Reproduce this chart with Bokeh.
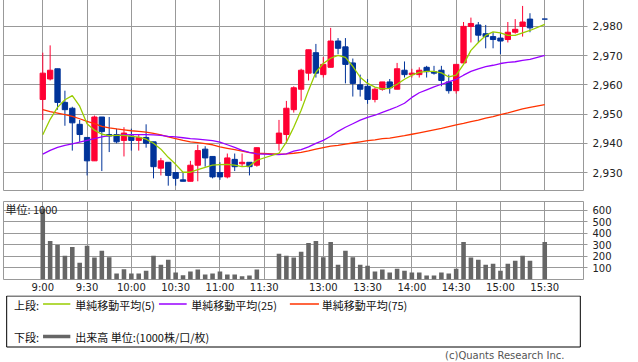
from bokeh.plotting import figure
from bokeh.models import Range1d, FixedTicker, NumeralTickFormatter, ColumnDataSource, Label
from bokeh.layouts import column
from bokeh.embed import file_html
from bokeh.resources import INLINE
from bokeh.core.properties import value

# ---------------- data ----------------
times = ["9:00", "9:05", "9:10", "9:15", "9:20", "9:25", "9:30", "9:35", "9:40", "9:45",
         "9:50", "9:55", "10:00", "10:05", "10:10", "10:15", "10:20", "10:25", "10:30", "10:35",
         "10:40", "10:45", "10:50", "10:55", "11:00", "11:05", "11:10", "11:15", "11:20", "11:25",
         "12:30", "12:35", "12:40", "12:45", "12:50", "12:55", "13:00", "13:05", "13:10", "13:15",
         "13:20", "13:25", "13:30", "13:35", "13:40", "13:45", "13:50", "13:55", "14:00", "14:05",
         "14:10", "14:15", "14:20", "14:25", "14:30", "14:35", "14:40", "14:45", "14:50", "14:55",
         "15:00", "15:05", "15:10", "15:15", "15:20", "15:30"]

opens = [2955, 2962, 2965.5, 2954, 2952, 2946.5, 2942, 2934, 2949, 2943,
         2943, 2941, 2942.5, 2941, 2942, 2940.5, 2931.5, 2933.5, 2930, 2927.5,
         2927, 2932.5, 2938, 2935.5, 2930, 2928.5, 2934.5, 2933, 2933.5, 2932.5,
         2940, 2943, 2951.5, 2958.5, 2964, 2971, 2963.5, 2966, 2975, 2973,
         2967.5, 2960, 2959.5, 2955, 2958.5, 2961, 2958.5, 2965, 2963.5, 2963.5,
         2966, 2964.5, 2965, 2961, 2958, 2967.5, 2980, 2980.5, 2977.5, 2976.5,
         2976, 2975.5, 2978, 2980, 2982.5, 2982.5]
highs = [2971, 2973.5, 2965.5, 2958, 2952.5, 2948, 2942, 2949.5, 2949, 2949,
         2945, 2945.5, 2945, 2943, 2946.5, 2940.5, 2935, 2933.5, 2930, 2930,
         2934, 2939.5, 2939, 2935.5, 2933.5, 2936.5, 2936.5, 2936.5, 2933.5, 2938.5,
         2948, 2954.5, 2959.5, 2965.5, 2972, 2974, 2969.5, 2979.5, 2976, 2976,
         2969, 2963.5, 2962, 2959, 2961, 2962, 2967.5, 2968, 2965.5, 2966,
         2966.5, 2966.5, 2966.5, 2963.5, 2967, 2981.5, 2983, 2981.5, 2980.5, 2978,
         2978, 2981.5, 2982.5, 2987, 2984.5, 2982.5]
lows = [2948, 2961.5, 2951.5, 2946, 2937.5, 2940.5, 2929, 2934, 2930.5, 2937,
        2940, 2935.5, 2937.5, 2937.5, 2938.5, 2928, 2929, 2925.5, 2925.5, 2927,
        2927, 2927, 2932, 2928, 2927.5, 2928, 2930.5, 2932, 2929, 2932,
        2937.5, 2940, 2950.5, 2954.5, 2961.5, 2962.5, 2962.5, 2966, 2970.5, 2960.5,
        2956, 2956, 2953.5, 2954, 2958, 2957, 2958.5, 2962.5, 2962.5, 2962.5,
        2962.5, 2963.5, 2959.5, 2957, 2957, 2967.5, 2974.5, 2974.5, 2972.5, 2972.5,
        2970.5, 2974.5, 2977.5, 2976.5, 2978, 2982.5]
closes = [2964, 2965, 2954, 2951.5, 2947, 2943, 2934, 2949, 2944, 2942.5,
          2940.5, 2943.5, 2941, 2942, 2940, 2932, 2934, 2929, 2928, 2927,
          2932.5, 2937.5, 2935, 2928.5, 2928.5, 2935, 2932, 2933.5, 2932, 2938.5,
          2943.5, 2952, 2959, 2965, 2972, 2964, 2967, 2975, 2972.5, 2967,
          2960.5, 2958.5, 2955, 2958.5, 2961, 2959, 2965.5, 2963.5, 2964, 2965,
          2964.5, 2964, 2961.5, 2958, 2967, 2980, 2981, 2977, 2976.5, 2975.5,
          2975, 2978, 2979, 2981.5, 2979.5, 2982.5]
volumes = [614, 334, 300, 206, 283, 146, 294, 191, 249, 194,
           51, 89, 51, 51, 77, 206, 129, 171, 60, 37,
           69, 86, 43, 51, 69, 43, 43, 29, 34, 86,
           223, 206, 191, 240, 317, 334, 194, 326, 129, 249,
           194, 129, 120, 69, 86, 60, 94, 77, 60, 60,
           34, 34, 60, 51, 94, 326, 191, 171, 129, 137,
           77, 137, 163, 206, 163, 326]
ma5 = [2942.9, 2948.2, 2952.3, 2954.9, 2956.3, 2952.7, 2946.7, 2944.5, 2943.1, 2942.6,
       2942.7, 2942.7, 2942.4, 2942.1, 2941.4, 2940.0, 2938.0, 2935.2, 2932.8, 2930.1,
       2930.1, 2931.0, 2931.8, 2932.5, 2932.7, 2932.8, 2932.5, 2932.0, 2932.2, 2934.2,
       2936.6, 2940.4, 2945.5, 2951.3, 2958.1, 2964.3, 2967.3, 2969.1, 2970.1, 2969.4,
       2966.3, 2962.6, 2960.5, 2959.2, 2958.6, 2958.8, 2960.2, 2961.9, 2963.3, 2964.3,
       2964.6, 2964.6, 2964.1, 2962.7, 2963.3, 2967.0, 2971.8, 2974.5, 2976.9, 2978.1,
       2977.8, 2976.9, 2976.9, 2977.8, 2978.6, 2980.7]
ma25 = [2936.3, 2937.6, 2938.6, 2939.3, 2939.8, 2940.4, 2941.0, 2941.6, 2942.2, 2942.6,
        2942.7, 2942.9, 2943.0, 2943.0, 2943.0, 2942.9, 2942.7, 2942.4, 2942.2, 2941.9,
        2941.6, 2941.4, 2941.2, 2940.9, 2940.4, 2939.5, 2938.6, 2937.6, 2936.9, 2936.4,
        2936.1, 2936.4, 2937.3, 2937.8, 2938.8, 2940.0, 2941.0, 2942.4, 2944.1, 2945.5,
        2946.7, 2947.9, 2948.9, 2949.6, 2950.6, 2951.5, 2952.5, 2953.7, 2955.7, 2957.3,
        2958.3, 2959.3, 2960.2, 2961.0, 2961.9, 2963.3, 2964.6, 2965.5, 2966.2, 2966.7,
        2967.3, 2967.7, 2967.9, 2968.4, 2968.7, 2970.1]
ma75 = [2951.5, 2950.8, 2950.3, 2949.8, 2949.2, 2948.4, 2947.5, 2946.7, 2945.8, 2945.3,
        2944.9, 2944.6, 2944.3, 2944.1, 2943.8, 2943.4, 2942.9, 2942.2, 2941.6, 2941.0,
        2940.5, 2940.2, 2939.9, 2939.5, 2938.8, 2938.3, 2937.8, 2937.3, 2936.8, 2936.6,
        2936.3, 2936.4, 2936.6, 2936.9, 2937.4, 2938.0, 2938.5, 2939.0, 2939.3, 2939.7,
        2940.1, 2940.5, 2940.9, 2941.2, 2941.6, 2941.8, 2942.2, 2942.6, 2943.1, 2943.6,
        2944.1, 2944.6, 2945.1, 2945.7, 2946.3, 2946.8, 2947.4, 2947.9, 2948.6, 2949.1,
        2949.8, 2950.4, 2951.1, 2951.8, 2952.3, 2953.2]

tick_labels = ["9:00", "9:30", "10:00", "10:30", "11:00", "11:30",
               "13:00", "13:30", "14:00", "14:30", "15:00", "15:30"]
price_ticks = [2930, 2940, 2950, 2960, 2970, 2980]
volume_ticks = [100, 200, 300, 400, 500, 600]

legend_top = ["上段:", "単純移動平均(5)", "単純移動平均(25)", "単純移動平均(75)"]
legend_bottom = ["下段:", "出来高 単位:(1000株/口/枚)"]
copyright_text = "(c)Quants Research Inc."

# ---------------- helpers ----------------
def slot(t):
    """5-minute slot index on the session axis (lunch break compressed)."""
    h, m = map(int, t.split(":"))
    mins = h * 60 + m - 540
    s = mins // 5
    return s if mins <= 150 else s - 10

xs = [slot(t) for t in times]
tick_pos = [slot(t) for t in tick_labels]
overrides = {pos: lab for pos, lab in zip(tick_pos, tick_labels)}

RED = "#ff0033"
BLUE = "#003399"
GRID = "#999999"
C5, C25, C75 = "#99cc00", "#9900ff", "#ff3300"
VOLC = "#666666"
TXT = "#222222"
CJK = "Noto Sans CJK JP"

colors = [RED if c > o else BLUE for o, c in zip(opens, closes)]
src = ColumnDataSource(dict(
    x=xs, open=opens, high=highs, low=lows, close=closes,
    top=[max(o, c) for o, c in zip(opens, closes)],
    bottom=[min(o, c) for o, c in zip(opens, closes)],
    color=colors, vol=volumes, ma5=ma5, ma25=ma25, ma75=ma75))

x_range = Range1d(-5.32, 73.25)

# ---------------- price panel ----------------
p = figure(width=638, height=197, x_range=x_range, y_range=Range1d(2923.85, 2989.2),
           output_backend="svg", toolbar_location=None, y_axis_location="right",
           min_border_left=3, min_border_right=55, min_border_top=0, min_border_bottom=6)
p.xaxis.visible = False
p.xgrid.ticker = FixedTicker(ticks=tick_pos)
p.yaxis.ticker = FixedTicker(ticks=price_ticks)
p.ygrid.ticker = FixedTicker(ticks=price_ticks)
p.yaxis.formatter = NumeralTickFormatter(format="0,0")
p.outline_line_color = GRID
p.grid.grid_line_color = GRID
p.grid.grid_line_width = 1
for ax in p.yaxis:
    ax.axis_line_color = None
    ax.major_tick_in = 0
    ax.major_tick_out = 4
    ax.major_tick_line_color = GRID
    ax.minor_tick_line_color = None
    ax.major_label_standoff = 5
    ax.major_label_text_font = "DejaVu Sans"
    ax.major_label_text_font_size = "10.5px"
    ax.major_label_text_color = TXT

p.segment(x0="x", y0="high", x1="x", y1="low", line_color="color", line_width=1, source=src)
p.vbar(x="x", width=0.72, top="top", bottom="bottom", fill_color="color",
       line_color="color", line_width=1, source=src)
p.line("x", "ma75", line_color=C75, line_width=1.3, source=src)
p.line("x", "ma25", line_color=C25, line_width=1.3, source=src)
p.line("x", "ma5", line_color=C5, line_width=1.3, source=src)

# ---------------- volume panel ----------------
v = figure(width=638, height=99, x_range=x_range, y_range=Range1d(0, 677),
           output_backend="svg", toolbar_location=None, y_axis_location="right",
           min_border_left=3, min_border_right=55, min_border_top=5, min_border_bottom=15)
v.xaxis.ticker = FixedTicker(ticks=tick_pos)
v.xaxis.major_label_overrides = overrides
v.xgrid.ticker = FixedTicker(ticks=tick_pos)
v.yaxis.ticker = FixedTicker(ticks=volume_ticks)
v.ygrid.ticker = FixedTicker(ticks=volume_ticks)
v.outline_line_color = GRID
v.grid.grid_line_color = GRID
for ax in v.xaxis:
    ax.axis_line_color = None
    ax.major_tick_line_color = None
    ax.minor_tick_line_color = None
    ax.major_tick_out = 0
    ax.major_tick_in = 0
    ax.major_label_standoff = 2
    ax.major_label_text_font = "DejaVu Sans"
    ax.major_label_text_font_size = "10px"
    ax.major_label_text_color = TXT
for ax in v.yaxis:
    ax.axis_line_color = None
    ax.major_tick_in = 0
    ax.major_tick_out = 4
    ax.major_tick_line_color = GRID
    ax.minor_tick_line_color = None
    ax.major_label_standoff = 5
    ax.major_label_text_font = "DejaVu Sans"
    ax.major_label_text_font_size = "10px"
    ax.major_label_text_color = TXT

v.vbar(x="x", top="vol", width=0.62, fill_color=VOLC, line_color=None, source=src)
v.add_layout(Label(x=-5.05, y=608, text="単位: 1000", text_font=CJK, text_font_size="11px",
                   text_baseline="middle", text_align="left", text_color=TXT))

# ---------------- legend panel ----------------
lg = figure(width=638, height=67, x_range=Range1d(0, 638), y_range=Range1d(67, 0),
            output_backend="svg", toolbar_location=None, x_axis_location=None,
            y_axis_location=None, min_border=0)
lg.grid.visible = False
lg.outline_line_color = None
lg.quad(left=[3.5], right=[634.5], top=[0.5], bottom=[51.5], fill_color=None,
        line_color="black", line_width=1)
lg.segment(x0=[43.5, 171, 315], y0=[8.5, 8.5, 8.5], x1=[73.5, 201.5, 347], y1=[8.5, 8.5, 8.5],
           line_color=[C5, C25, C75], line_width=1.3)
lg.segment(x0=[43.5], y0=[41], x1=[73.5], y1=[41], line_color=VOLC, line_width=3.5)
lg.text(x=[11.5, 79, 206.5, 350], y=[9, 9, 9, 9], text=legend_top,
        text_font=value(CJK), text_font_size="11px", text_baseline="middle",
        text_align="left", text_color="#111111")
lg.text(x=[11.5, 79], y=[41, 41], text=legend_bottom,
        text_font=value(CJK), text_font_size="11px", text_baseline="middle",
        text_align="left", text_color="#111111")
lg.text(x=[617], y=[60], text=[copyright_text], text_font=value("DejaVu Sans"),
        text_font_size="10px", text_baseline="middle", text_align="right",
        text_color="#555555")

layout = column(p, v, lg, margin=(-1, 0, 0, 0))

open("out.html", "w").write(file_html(layout, INLINE))
